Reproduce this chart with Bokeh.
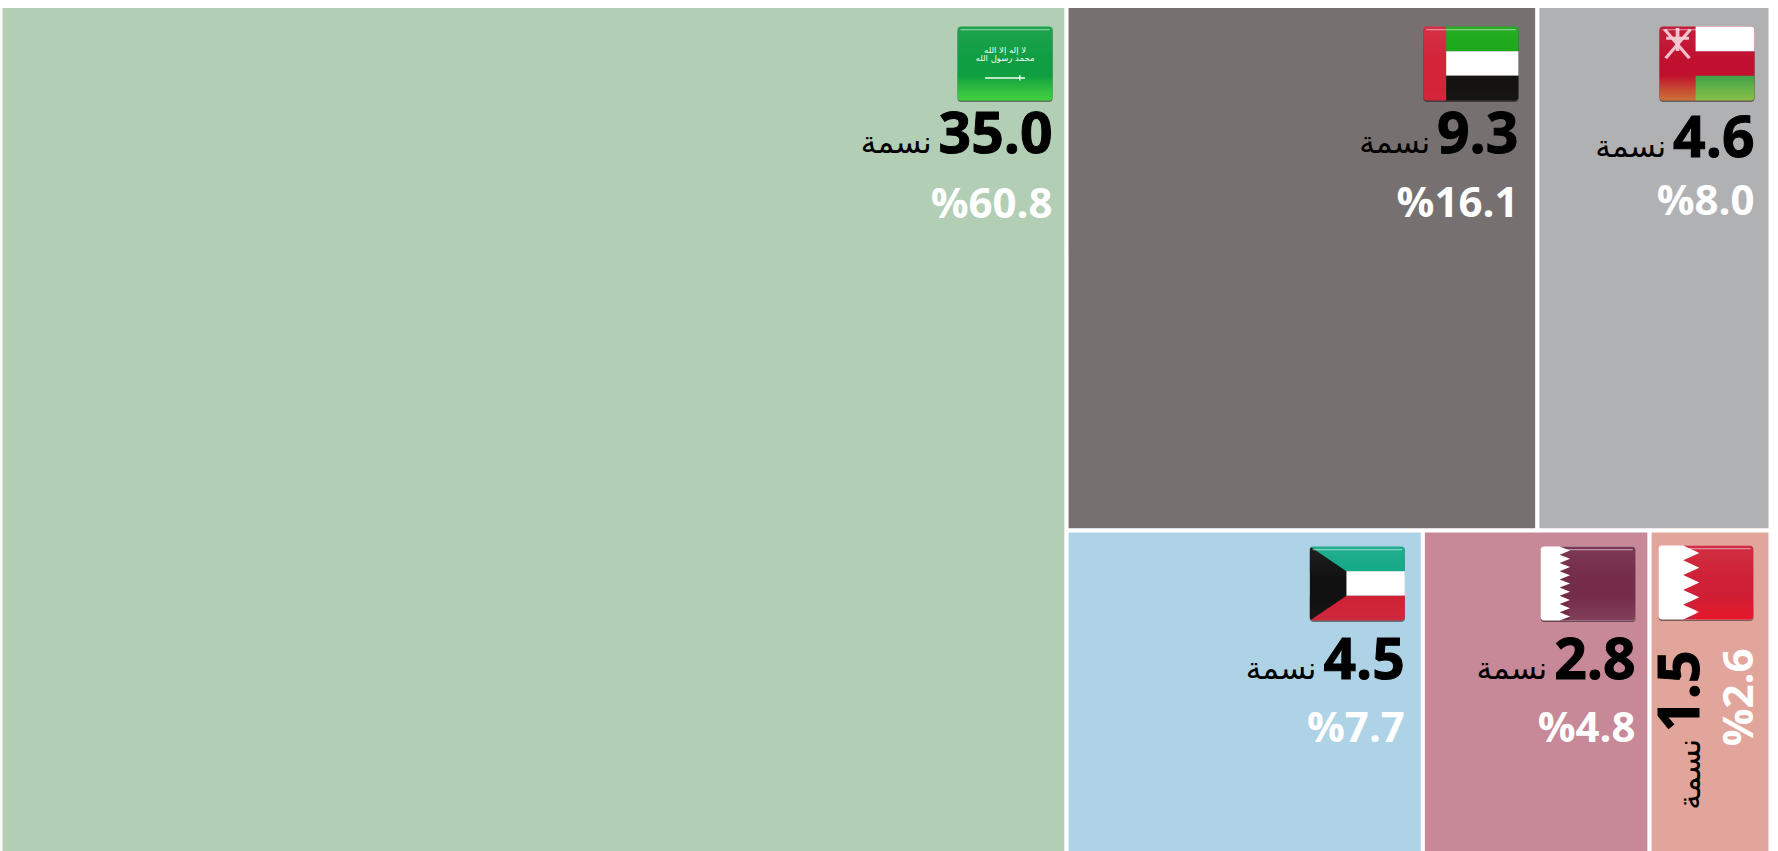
from bokeh.plotting import figure
from bokeh.embed import file_html
from bokeh.resources import INLINE
from bokeh.core.properties import value

# ---- data ----
countries = ["sa", "ae", "om", "kw", "qa", "bh"]
population = ["35.0", "9.3", "4.6", "4.5", "2.8", "1.5"]
shares = ["%60.8", "%16.1", "%8.0", "%7.7", "%4.8", "%2.6"]
unit = "نسمة"
# cell areas (unrounded percentages)
areas = [60.23, 16.28, 8.06, 7.81, 4.97, 2.65]
colors = ["#B2CEB5", "#767170", "#B0B1B3", "#AFD3E6", "#C78898", "#E2A59B"]

W, H = 1778, 851
TX0, TX1, TY0, TY1 = 0.0, 1770.0, 5.5, 862.5


def treemap():
    sa, ae, om, kw, qa, bh = areas
    total = sum(areas)
    xm = TX0 + (TX1 - TX0) * sa / total
    rest = total - sa
    top = ae + om
    ym = TY0 + (TY1 - TY0) * top / rest
    xt = xm + (TX1 - xm) * ae / top
    bot = kw + qa + bh
    xb1 = xm + (TX1 - xm) * kw / bot
    xb2 = xm + (TX1 - xm) * (kw + qa) / bot
    return [
        (TX0, xm, TY0, TY1), (xm, xt, TY0, ym), (xt, TX1, TY0, ym),
        (xm, xb1, ym, TY1), (xb1, xb2, ym, TY1), (xb2, TX1, ym, TY1),
    ]


cells = treemap()

p = figure(width=W, height=H, x_range=(0, W), y_range=(H, 0), output_backend="svg",
           toolbar_location=None, min_border=0, outline_line_color=None,
           background_fill_color="white", border_fill_color="white")
p.axis.visible = False
p.grid.visible = False

p.quad(left=[c[0] for c in cells], right=[c[1] for c in cells],
       top=[c[2] for c in cells], bottom=[c[3] for c in cells],
       fill_color=colors, line_color="white", line_width=4)

# ---- flags ----
FW, FH = 95.0, 74.0


def rounded(r=0.035):
    import math
    rx, ry = r, r * FW / FH
    pts = []
    for cx, cy, a0 in [(1 - rx, ry, -90), (1 - rx, 1 - ry, 0), (rx, 1 - ry, 90), (rx, ry, 180)]:
        for k in range(5):
            a = math.radians(a0 + k * 22.5)
            pts.append((cx + rx * math.cos(a), cy + ry * math.sin(a)))
    return pts


ROUND = rounded()


def clip(poly, region=ROUND):
    out = poly
    n = len(region)
    for i in range(n):
        ax, ay = region[i]
        bx, by = region[(i + 1) % n]
        side = lambda q: (bx - ax) * (q[1] - ay) - (by - ay) * (q[0] - ax)
        new = []
        for j in range(len(out)):
            c, d = out[j], out[(j + 1) % len(out)]
            sc, sd = side(c), side(d)
            if sc >= 0:
                new.append(c)
            if sc * sd < 0:
                t = sc / (sc - sd)
                new.append((c[0] + t * (d[0] - c[0]), c[1] + t * (d[1] - c[1])))
        out = new
        if not out:
            break
    return out


def box(x0, x1, y0, y1):
    return [(x0, y0), (x1, y0), (x1, y1), (x0, y1)]


def serrated(edge, tip, n, x1=1.0):
    pts = [(edge, 0.0), (x1, 0.0), (x1, 1.0), (edge, 1.0)]
    for i in range(n, 0, -1):
        pts.append((tip, (i - 0.5) / n))
        pts.append((edge, (i - 1) / n))
    return pts[:-1] + [(edge, 0.0)]


FLAGS = {
    "sa": [("#0F9E42", box(0, 1, 0, 1))],
    "ae": [("#17A816", box(.22, 1, 0, 1 / 3)), ("#FFFFFF", box(.22, 1, 1 / 3, 2 / 3)),
           ("#141312", box(.22, 1, 2 / 3, 1)), ("#D3243A", box(0, .24, 0, 1))],
    "om": [("#C1102F", box(0, 1, 0, 1)), ("#FFFFFF", box(.38, 1, 0, 1 / 3)),
           ("#3EA24C", box(.38, 1, 2 / 3, 1))],
    "kw": [("#13A987", box(0, 1, 0, 1 / 3)), ("#FFFFFF", box(0, 1, 1 / 3, 2 / 3)),
           ("#CF2236", box(0, 1, 2 / 3, 1)),
           ("#111111", [(0, 0), (.385, 1 / 3), (.385, 2 / 3), (0, 1)])],
    "qa": [("#FFFFFF", box(0, 1, 0, 1)), ("#742C4A", serrated(.20, .31, 9))],
    "bh": [("#FFFFFF", box(0, 1, 0, 1)), ("#CE2137", serrated(.26, .43, 5))],
}
# lower-edge glow of each flag: colour and strength
GLOW = {"sa": ("#66F040", .75), "ae": ("#FFFFFF", .02), "om": ("#D8E040", .55),
        "kw": ("#FFFFFF", .04), "qa": ("#FFFFFF", .10), "bh": ("#FF1020", .6)}

fx, fy, fc, fa = [], [], [], []


def add(x0, y0, poly, color, alpha=1.0):
    poly = clip(poly)
    if poly:
        fx.append([x0 + q[0] * FW for q in poly])
        fy.append([y0 + q[1] * FH for q in poly])
        fc.append(color)
        fa.append(alpha)


inset = [12, 17, 14, 16, 12, 15]
flag_top = [20.5, 20.5, 20.5, 16, 16, 15]
num_base = [149.5, 149.5, 153.5, 151, 151, None]
pct_base = [215, 214.5, 212, 214.5, 214.5, None]

right_edges = []
for cell, ins, ft, code in zip(cells, inset, flag_top, countries):
    r = cell[1] - 2 - ins
    right_edges.append(r)
    x0 = r - FW
    y0 = cell[2] + ft
    # shadow
    fx.append([x0 + q[0] * FW for q in ROUND])
    fy.append([y0 + 1.5 + q[1] * FH for q in ROUND])
    fc.append("#000000")
    fa.append(0.45)
    for col, poly in FLAGS[code]:
        add(x0, y0, poly, col)
    if code == "om":
        for poly in [[(.04, .05), (.07, .03), (.33, .42), (.30, .44)],
                     [(.34, .05), (.31, .03), (.05, .42), (.08, .44)],
                     [(.17, .02), (.21, .02), (.21, .33), (.17, .33)],
                     [(.07, .14), (.31, .14), (.31, .18), (.07, .18)]]:
            add(x0, y0, poly, "#F3C9D2", 0.95)
    # gloss, one pixel band at a time
    n = int(FH)
    glow_col, glow_a = GLOW[code]
    for i in range(n):
        t = (i + 0.5) / n
        if t < 0.5:
            add(x0, y0, box(0, 1, i / n, (i + 1) / n), "#FFFFFF", 0.07 * (1 - t / 0.5))
        elif t > 0.66 and glow_a:
            # white parts of the flag must stay white
            for col, poly in [("x", box(0, 1, i / n, (i + 1) / n))]:
                if code in ("om", "bh", "qa"):
                    left = {"om": 0.0, "bh": 0.40, "qa": 0.30}[code]
                    poly = box(left, 1, i / n, (i + 1) / n)
                add(x0, y0, poly, glow_col, glow_a * (t - 0.66) / 0.34)
    add(x0, y0, box(.03, .97, .035, .05), "#FFFFFF", 0.45)

p.patches(fx, fy, fill_color=fc, fill_alpha=fa, line_color=None)

# Saudi flag emblem
sa_r = right_edges[0]
sa_top = cells[0][2] + flag_top[0]
p.text([sa_r - FW / 2] * 2, [sa_top + 23, sa_top + 31],
       text=["لا إله إلا الله", "محمد رسول الله"],
       text_font=value("DejaVu Sans"), text_font_size="8.5px", text_color="#F2FFF2",
       text_align="center", text_baseline="middle")
p.segment([sa_r - FW * .71], [sa_top + FH * .695], [sa_r - FW * .29], [sa_top + FH * .695],
          line_color="#EFFFEF", line_width=1.5)
p.segment([sa_r - FW * .345], [sa_top + FH * .66], [sa_r - FW * .345], [sa_top + FH * .73],
          line_color="#EFFFEF", line_width=1.5)

NUM_FONT = value("Open Sans")
AR_FONT = value("DejaVu Sans")
NUM_SIZE, PCT_SIZE, AR_SIZE = 57, 42, 31
NUM_OFF, PCT_OFF, AR_OFF = 23, 20, 13
HEAVY = dict(text_outline_color="black", text_line_height=1.2)


def num_width(s, size):
    return sum(0.286 if ch == "." else 0.571 for ch in s) * size


# horizontal cells
for i in range(5):
    r = right_edges[i]
    top = cells[i][2]
    nb = top + num_base[i]
    pb = top + pct_base[i]
    p.text([r], [nb - NUM_OFF], text=[population[i]], text_font=NUM_FONT, text_font_style="bold",
           text_font_size=f"{NUM_SIZE}px", text_color="black", text_align="right",
           text_baseline="alphabetic", **HEAVY)
    p.text([r - num_width(population[i], NUM_SIZE) - 7], [nb - AR_OFF - 1], text=[unit], text_font=AR_FONT,
           text_font_size=f"{AR_SIZE}px", text_color="black", text_align="right",
           text_baseline="alphabetic")
    p.text([r], [pb - PCT_OFF], text=[shares[i]], text_font=NUM_FONT, text_font_style="bold",
           text_font_size=f"{PCT_SIZE}px", text_color="white", text_align="right",
           text_baseline="alphabetic")

# narrow cell: rotated texts
r = right_edges[5]
top = cells[5][2]
p.text([r - 52 - NUM_OFF], [top + 120], text=[population[5]], text_font=NUM_FONT, text_font_style="bold",
       text_font_size=f"{NUM_SIZE}px", text_color="black", text_align="right",
       text_baseline="alphabetic", angle=1.5708, **HEAVY)
p.text([r - 52 - AR_OFF], [top + 120 + num_width(population[5], NUM_SIZE) + 7], text=[unit], text_font=AR_FONT,
       text_font_size=f"{AR_SIZE}px", text_color="black", text_align="right",
       text_baseline="alphabetic", angle=1.5708)
p.text([r + 3 - PCT_OFF], [top + 118], text=[shares[5]], text_font=NUM_FONT, text_font_style="bold",
       text_font_size=f"{PCT_SIZE}px", text_color="white", text_align="right",
       text_baseline="alphabetic", angle=1.5708)

open("out.html", "w").write(file_html(p, INLINE))
